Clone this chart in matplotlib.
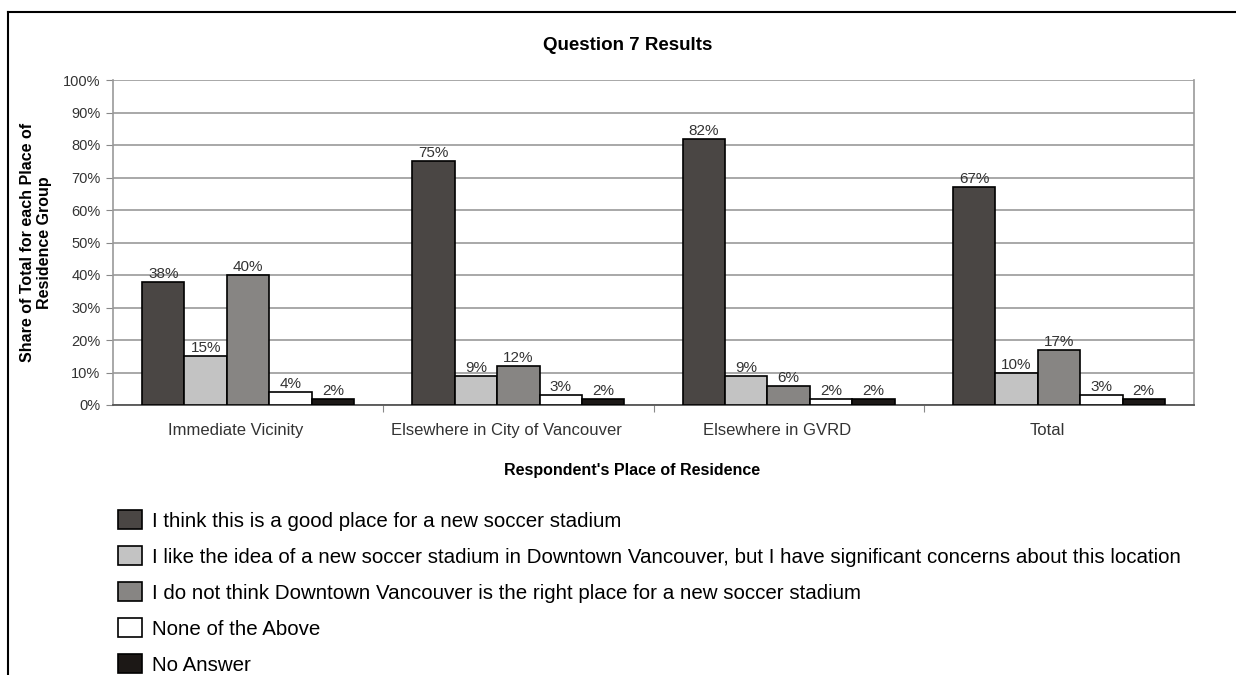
import matplotlib
matplotlib.use("Agg")
import matplotlib.pyplot as plt
from matplotlib.lines import Line2D
from matplotlib.transforms import ScaledTranslation
import numpy as np

plt.rcParams['font.family'] = ['Liberation Sans', 'DejaVu Sans']

categories = ["Immediate Vicinity", "Elsewhere in City of Vancouver", "Elsewhere in GVRD", "Total"]
series_names = [
    "I think this is a good place for a new soccer stadium",
    "I like the idea of a new soccer stadium in Downtown Vancouver, but I have significant concerns about this location",
    "I do not think Downtown Vancouver is the right place for a new soccer stadium",
    "None of the Above",
    "No Answer",
]
good_place = [38, 75, 82, 67]
concerns = [15, 9, 9, 10]
not_right = [40, 12, 6, 17]
none_above = [4, 3, 2, 3]
no_answer = [2, 2, 2, 2]
series_values = [good_place, concerns, not_right, none_above, no_answer]
colors = ["#4a4644", "#c3c3c3", "#878583", "#ffffff", "#1c1816"]
yticks = list(range(0, 101, 10))

fig = plt.figure(figsize=(12.36, 6.75), dpi=100)
ax = fig.add_axes([113/1236, 1-405/675, (1194-113)/1236, (405-80)/675])

n = len(series_values)
bw = 0.157
x = np.arange(len(categories))
for i, (vals, col, name) in enumerate(zip(series_values, colors, series_names)):
    pos = x + (i - (n-1)/2) * bw
    bars = ax.bar(pos, vals, bw, color=col, edgecolor="black", linewidth=1.2, label=name, zorder=3)
    for b, v in zip(bars, vals):
        ax.text(b.get_x() + b.get_width()/2, v + 0.3, f"{v}%", ha="center", va="bottom",
                fontsize=11, color="#333333", zorder=4)

ax.set_xlim(-0.5, len(categories) - 0.5)
ax.set_ylim(0, 100)
ax.set_yticks(yticks)
ax.set_yticklabels([f"{t}%" for t in yticks], fontsize=10.5, color="#333333")
ax.yaxis.grid(True, color="#999999", linewidth=1.2, zorder=0)
ax.set_axisbelow(True)

ax.set_xticks(np.arange(0.5, len(categories) - 0.5, 1.0))
ax.set_xticklabels([])
ax.set_xticks(x, minor=True)
ax.set_xticklabels(categories, minor=True, fontsize=12, color="#333333")
ax.tick_params(axis="x", which="minor", length=0, pad=13)
ax.tick_params(axis="x", which="major", length=5, color="#888888", direction="out")
ax.tick_params(axis="y", length=5, color="#888888", pad=4)
shift = ScaledTranslation(-12/100, 0, fig.dpi_scale_trans)
for lbl in ax.get_xticklabels(minor=True):
    lbl.set_transform(lbl.get_transform() + shift)

for s in ["left", "right", "top"]:
    ax.spines[s].set_color("#999999")
    ax.spines[s].set_linewidth(1.2)
ax.spines["top"].set_visible(False)
ax.spines["bottom"].set_color("#555555")
ax.spines["bottom"].set_linewidth(1.3)

ax.set_ylabel("Share of Total for each Place of\nResidence Group", fontsize=11.5, fontweight="bold")
ax.yaxis.set_label_coords(-0.056, 0.5)
ax.set_xlabel("Respondent's Place of Residence", fontsize=11.5, fontweight="bold")
ax.xaxis.set_label_coords((632-113)/(1194-113), -(470-405)/(405-80))
ax.xaxis.label.set_va("center")
fig.text(628/1236, 1-45/675, "Question 7 Results", ha="center", va="center", fontsize=13.5, fontweight="bold")

handles, labels = ax.get_legend_handles_labels()
fig.legend(handles, labels, loc="upper left", bbox_to_anchor=(118/1236, 1-510/675),
           frameon=False, fontsize=14.8, handlelength=1.17, handleheight=1.08,
           labelspacing=0.74, handletextpad=0.5, borderaxespad=0, borderpad=0)

fig.add_artist(Line2D([8/1236, 1], [1-12/675, 1-12/675], color="black", linewidth=1.5, transform=fig.transFigure))
fig.add_artist(Line2D([8/1236, 8/1236], [0, 1-12/675], color="black", linewidth=1.5, transform=fig.transFigure))

fig.savefig("out.png", dpi=100, facecolor="white")
